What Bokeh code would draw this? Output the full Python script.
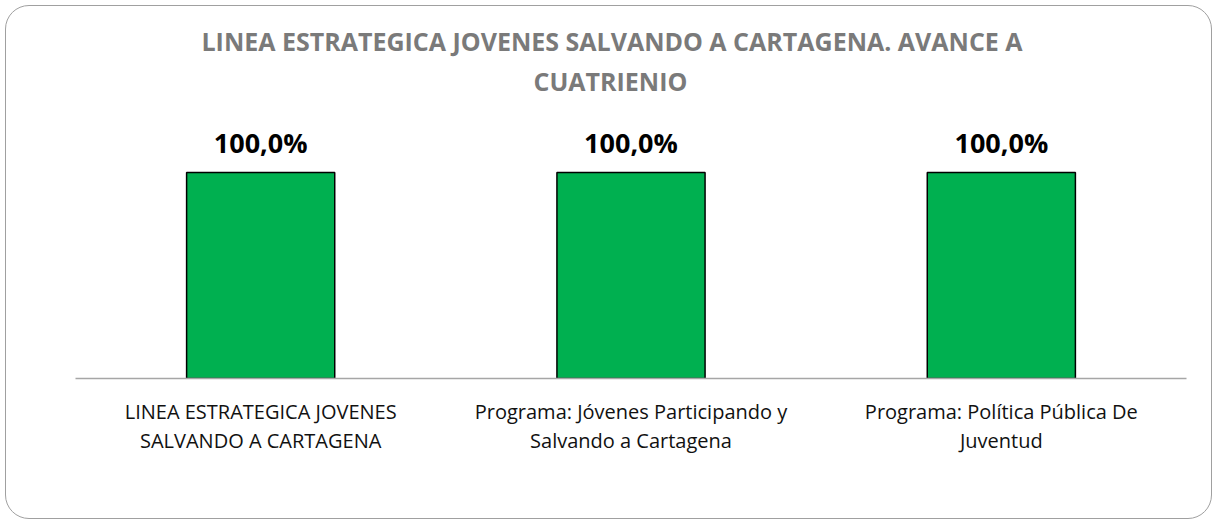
from bokeh.plotting import figure
from bokeh.models import ColumnDataSource, LabelSet, Range1d, Title, FactorRange
from bokeh.core.properties import value
from bokeh.embed import file_html
from bokeh.resources import INLINE

categories = [
    "LINEA ESTRATEGICA JOVENES\nSALVANDO A CARTAGENA",
    "Programa: Jóvenes Participando y\nSalvando a Cartagena",
    "Programa: Política Pública De\nJuventud",
]
values = [100.0, 100.0, 100.0]
value_labels = ["100,0%", "100,0%", "100,0%"]
title_lines = ["LINEA ESTRATEGICA JOVENES SALVANDO A CARTAGENA. AVANCE A", "CUATRIENIO"]

src = ColumnDataSource(dict(cat=categories, val=values, lab=value_labels))

W, H = 1207, 514
p = figure(width=W, height=H, x_range=FactorRange(*categories), y_range=Range1d(0, 135),
           output_backend="svg", toolbar_location=None,
           min_border_left=69, min_border_right=27, min_border_bottom=142, min_border_top=94)

p.add_layout(Title(text=title_lines[1], align="left", text_font="Open Sans",
                   text_font_style="bold", text_font_size="25px", text_color="#7a7a7a",
                   standoff=6, offset=458), "above")
p.add_layout(Title(text=title_lines[0], align="left", text_font="Open Sans",
                   text_font_style="bold", text_font_size="25px", text_color="#7a7a7a",
                   standoff=2, offset=126), "above")
p.title.visible = False

p.vbar(x="cat", top="val", width=0.4, source=src, fill_color="#00B050",
       line_color="black", line_width=1.5)

labels = LabelSet(x="cat", y="val", text="lab", source=src, text_align="center",
                  text_baseline="alphabetic", y_offset=20, text_font=value("Open Sans"),
                  text_font_style="bold", text_font_size="27px", text_color="black")
p.add_layout(labels)

p.yaxis.visible = False
p.xgrid.visible = False
p.ygrid.visible = False
p.outline_line_color = None
p.xaxis.axis_line_color = "#a6a6a6"
p.xaxis.axis_line_width = 1.5
p.xaxis.major_tick_line_color = None
p.xaxis.minor_tick_line_color = None
p.xaxis.major_label_text_font = "Open Sans"
p.xaxis.major_label_text_font_size = "20px"
p.xaxis.major_label_text_color = "#111111"
p.xaxis.major_label_text_line_height = 1.1
p.xaxis.major_label_standoff = 13
p.x_range.range_padding = 0
p.styles = {"border": "1.5px solid #a0a0a0", "border-radius": "24px",
            "overflow": "hidden", "margin": "5px 0 0 5px"}
p.background_fill_color = None
p.border_fill_color = None

open("out.html", "w").write(file_html(p, INLINE))
